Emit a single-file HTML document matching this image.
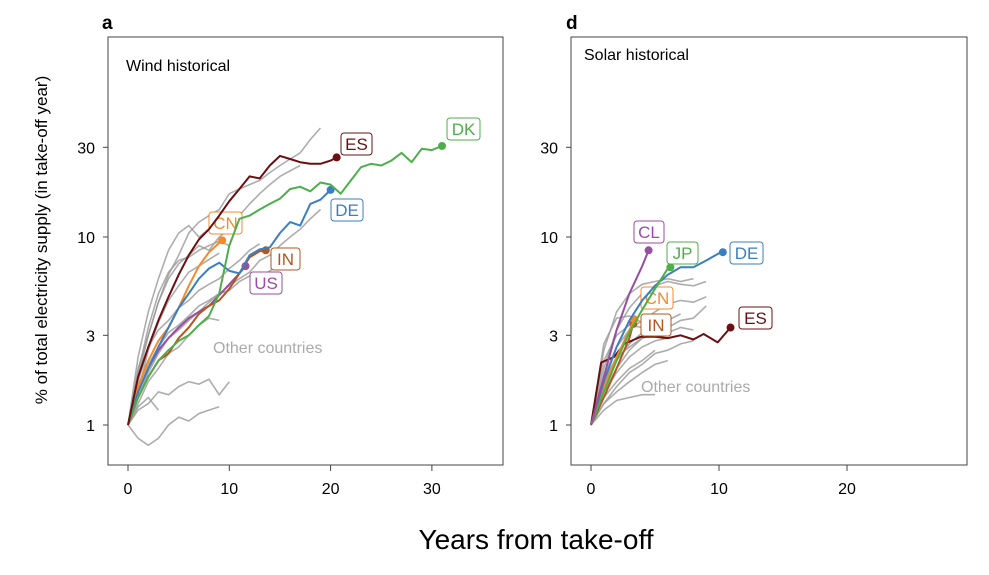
<!DOCTYPE html>
<html><head><meta charset="utf-8"><style>
body{margin:0;background:#fff;}
svg text{font-family:"Liberation Sans",sans-serif;}
</style></head><body>
<svg id="chart" width="989" height="570" viewBox="0 0 989 570" xmlns="http://www.w3.org/2000/svg">
<text x="102" y="29" font-size="19" font-weight="bold">a</text>
<text x="566" y="29" font-size="19" font-weight="bold">d</text>
<rect x="108" y="37" width="395" height="428" fill="none" stroke="#444" stroke-width="1"/>
<rect x="571" y="37" width="396" height="428" fill="none" stroke="#444" stroke-width="1"/>
<text x="126" y="71" font-size="16">Wind historical</text>
<text x="584" y="60" font-size="16">Solar historical</text>
<text transform="translate(47,240) rotate(-90)" text-anchor="middle" font-size="17">% of total electricity supply (in take-off year)</text>
<text x="536" y="549" text-anchor="middle" font-size="28">Years from take-off</text>
<text x="213" y="353" font-size="16" fill="#aaa">Other countries</text>
<text x="641" y="392" font-size="16" fill="#aaa">Other countries</text>
<g id="plot"></g>
</svg>
<script>
const yTicks=[1,3,10,30];
const windXTicks=[0,10,20,30];
const solarXTicks=[0,10,20];
// Wind other countries (values per year from 0)
const windOther=[
[1,1.8,3,4.5,6.3,8,10.5,12,13,14,17,18,19,20,22,24,26,28,33,38],
[1,2.3,4,6,8.5,10.5,11.5,10,11,12,11.5],
[1,2,3,4.5,6,7.2,8,9,8.5,10,11,13,15,17,19,21,22.5,24],
[1,1.4,1.9,2.4,2.9,3.2,3.6,4,4.5,5,5.5,6,6.5,7.5,8,9,10,11,12.5,14],
[1,0.85,0.78,0.85,1.0,1.1,1.05,1.15,1.2,1.25],
[1,1.2,1.3,1.5,1.45,1.6,1.7,1.65,1.75,1.45,1.7],
[1,1.25,1.4,1.2],
[1,1.7,2.6,3.2,3.6,4.2,4.6,5.2,5.6,6,6.8,7.5,8.5,9.2],
[1,1.6,2.1,2.6,3.1,3.4,3.8,4.3,4.6,5,5.2,5.8,6.2,6.1,6.6,7.2,7.8],
[1,1.3,1.7,2.0,2.4,2.6,3.0,3.4,3.7,3.6],
[1,1.9,3.3,5,6.5,7.5,7.8,8.5,9,9.5,9],
[1,1.5,2.5,3.5,4.6,5.5,6.5,7,7.6,8.2]
];
const solarOther=[
[1,2.5,4,5,5.6,5.8,6,5.8,6],
[1,2,3.2,4.2,5,5.5,5.8,5.6,5.5,5.8],
[1,1.8,2.6,3.2,3.6,4,4.4,4.6,4.5,4.8],
[1,1.6,2.2,2.7,3.1,3.4,3.6,3.9],
[1,2.7,3.7,3.8,3.5],
[1,1.5,1.9,2.3,2.6,2.8,2.9],
[1,1.4,1.7,2,2.2,2.5],
[1,1.3,1.5,1.7,1.9,2.1,2.2],
[1,1.2,1.35,1.4,1.45,1.45],
[1,1.5,2.0,2.5,2.9,3.0,3.1,3.3,3.2],
[1,2.2,3,3.4,3.3,3.5],
[1,1.7,2.3,2.6,2.9,3.1,3.3,3.6,3.7,4.3],
[1,1.3,1.6,1.9,2.1,2.4,2.5,2.7,2.8]
];
// Wind highlighted countries
const windEsYears=[0,1,2,3,4,5,6,7,8,9,10,11,12,13,14,15,16,17,18,19,20,20.6];
const windEsVals=[1,1.8,2.6,3.6,4.8,6.3,8,9.7,11,13,15.5,18,21,20.5,24,27,26,25,24.5,24.5,25.5,26.5];
const windDkYears=[0,1,2,3,4,5,6,7,8,9,10,11,12,13,14,15,16,17,18,19,20,21,22,23,24,25,26,27,28,29,30,31];
const windDkVals=[1,1.4,1.8,2.2,2.5,2.8,3.0,3.4,3.8,5,9,12.5,13,14,15,16,18,18.5,17.5,19.5,19,17,20,23.5,24.5,24,25.5,28,25,29.5,29,30.5];
const windDeYears=[0,1,2,3,4,5,6,7,8,9,10,11,12,13,14,15,16,17,18,19,20];
const windDeVals=[1,1.5,2,2.6,3.3,4.2,5,6,6.8,7.3,6.6,6.4,8,8.6,8.8,10.5,12,11.5,15,15.8,17.8];
const windCnYears=[0,1,2,3,4,5,6,7,8,9,9.3];
const windCnVals=[1,1.6,2.2,2.8,3.3,4.2,5.5,7,8.3,9.3,9.6];
const windInYears=[0,1,2,3,4,5,6,7,8,9,10,11,12,13,13.6];
const windInVals=[1,1.4,1.8,2.2,2.4,2.9,3.3,3.9,4.3,4.6,5.3,6.4,7.8,8.4,8.5];
const windUsYears=[0,1,2,3,4,5,6,7,8,9,10,11,11.6];
const windUsVals=[1,1.5,2,2.5,2.9,3.3,3.7,4.0,4.3,4.9,5.6,6.4,7];
// Solar highlighted countries
const solarClYears=[0,1,2,3,4,4.5];
const solarClVals=[1,1.8,3.2,5,7,8.5];
const solarJpYears=[0,1,2,3,4,5,6,6.2];
const solarJpVals=[1,1.5,2.2,3.1,4.1,5.3,6.8,6.9];
const solarDeYears=[0,1,2,3,4,5,6,7,8,9,10,10.3];
const solarDeVals=[1,1.7,2.6,3.6,4.6,5.5,6.3,6.9,6.9,7.5,8.2,8.3];
const solarCnYears=[0,1,2,3,3.4];
const solarCnVals=[1,1.6,2.3,3.2,3.65];
const solarInYears=[0,1,2,3,3.3];
const solarInVals=[1,1.4,2,2.9,3.45];
const solarEsYears=[0,0.8,1.8,2.6,3.9,5,6,7,8,8.8,9.9,10.9];
const solarEsVals=[1,2.15,2.3,2.7,2.95,2.95,2.9,3.0,2.85,3.05,2.75,3.3];

const NS='http://www.w3.org/2000/svg';
const plot=document.getElementById('plot');
const yS=v=>425-188*Math.log10(v);
const xA=t=>128+t*10.13;
const xD=t=>591+t*12.8;
function mk(tag,attrs){const e=document.createElementNS(NS,tag);for(const k in attrs)e.setAttribute(k,attrs[k]);plot.appendChild(e);return e;}
function pathD(xs,vs,xf){return xs.map((t,i)=>(i?'L':'M')+xf(t).toFixed(1)+','+yS(vs[i]).toFixed(1)).join(' ');}
// axes
[[108,xA,windXTicks,'wind'],[571,xD,solarXTicks,'solar']].forEach(([left,xf,xt,nm])=>{
  yTicks.forEach(v=>{
    const l=mk('line',{x1:left-5,x2:left,y1:yS(v),y2:yS(v),stroke:'#444'});
    
    
    const t=mk('text',{x:left-13,y:yS(v)+6,'text-anchor':'end','font-size':16});
    t.textContent=v;
    
    
  });
  xt.forEach(v=>{
    const l=mk('line',{x1:xf(v),x2:xf(v),y1:465,y2:471,stroke:'#444'});
    
    
    const t=mk('text',{x:xf(v),y:494,'text-anchor':'middle','font-size':16});
    t.textContent=v;
    
    
  });
});
windOther.forEach(vs=>{
  const p=mk('path',{d:pathD(vs.map((_,i)=>i),vs,xA),fill:'none',stroke:'#999','stroke-opacity':0.8,'stroke-width':1.6});
  
  
});
solarOther.forEach(vs=>{
  const p=mk('path',{d:pathD(vs.map((_,i)=>i),vs,xD),fill:'none',stroke:'#999','stroke-opacity':0.8,'stroke-width':1.6});
  
  
});
function series(xs,vs,xf,col,name,lbl,lx,ly,lw){
  const p=mk('path',{d:pathD(xs,vs,xf),fill:'none',stroke:col,'stroke-width':2,'stroke-linejoin':'round'});
  
  
  const n=xs.length-1;
  const c=mk('circle',{cx:xf(xs[n]),cy:yS(vs[n]),r:4,fill:col});
  
  
  const r=mk('rect',{x:lx,y:ly,width:lw,height:22,rx:3,fill:'#fff',stroke:col,'stroke-width':1});
  
  
  const t=mk('text',{x:lx+lw/2,y:ly+17,'text-anchor':'middle','font-size':17,fill:col});
  t.textContent=lbl;
  
  
}
series(windUsYears,windUsVals,xA,'#984ea3','wind-us','US',250,272,32);
series(windInYears,windInVals,xA,'#b5561e','wind-in','IN',271,248,29);
series(windCnYears,windCnVals,xA,'#f58a2a','wind-cn','CN',209,212,33);
series(windDeYears,windDeVals,xA,'#3a7fc0','wind-de','DE',331,199,32);
series(windDkYears,windDkVals,xA,'#4daf4a','wind-dk','DK',447,118,33);
series(windEsYears,windEsVals,xA,'#6b0f12','wind-es','ES',341,133,31);
series(solarEsYears,solarEsVals,xD,'#6b0f12','solar-es','ES',739,307,33);
series(solarInYears,solarInVals,xD,'#b5561e','solar-in','IN',641,314,30);
series(solarCnYears,solarCnVals,xD,'#f58a2a','solar-cn','CN',641,287,32);
series(solarDeYears,solarDeVals,xD,'#3a7fc0','solar-de','DE',730,242,33);
series(solarJpYears,solarJpVals,xD,'#4daf4a','solar-jp','JP',667,242,31);
series(solarClYears,solarClVals,xD,'#984ea3','solar-cl','CL',634,221,30);
</script>
</body></html>
